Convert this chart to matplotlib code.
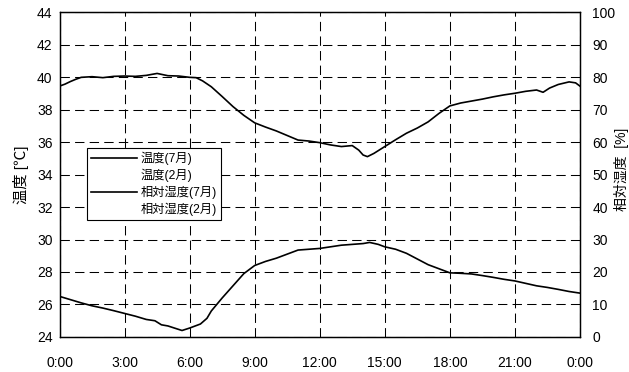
import numpy as np
import matplotlib
matplotlib.use("Agg")
import matplotlib.pyplot as plt
from matplotlib.lines import Line2D

plt.rcParams['font.family'] = ['Liberation Sans', 'Noto Sans CJK JP']

# temperature, July (left axis, deg C)
temp_hours = [0.0, 0.5, 1.0, 1.5, 2.0, 2.5, 3.0, 3.5, 4.0, 4.4, 4.7, 5.0, 5.3, 5.65,
              6.0, 6.5, 6.8, 7.0, 7.5, 8.0, 8.5, 9.0, 9.5, 10.0, 10.5, 11.0, 11.5,
              12.0, 12.5, 13.0, 13.5, 14.0, 14.3, 14.7, 15.0, 15.5, 16.0, 16.5,
              17.0, 17.5, 18.0, 18.5, 19.0, 19.5, 20.0, 20.5, 21.0, 21.5, 22.0,
              22.5, 23.0, 23.5, 24.0]
temp_jul = [26.5, 26.3, 26.1, 25.92, 25.78, 25.62, 25.45, 25.28, 25.08, 25.0, 24.75,
            24.68, 24.55, 24.4, 24.55, 24.8, 25.15, 25.6, 26.4, 27.15, 27.9, 28.4,
            28.65, 28.85, 29.1, 29.35, 29.4, 29.45, 29.55, 29.65, 29.7, 29.75, 29.82,
            29.7, 29.55, 29.4, 29.15, 28.8, 28.45, 28.2, 27.95, 27.92, 27.88, 27.78,
            27.67, 27.55, 27.45, 27.3, 27.15, 27.05, 26.93, 26.8, 26.7]

# relative humidity, July (right axis, %)
rh_hours = [0.0, 0.25, 0.5, 0.75, 1.0, 1.5, 2.0, 2.5, 3.0, 3.5, 4.0, 4.5, 5.0, 5.5,
            6.0, 6.3, 6.6, 7.0, 7.5, 8.0, 8.5, 9.0, 9.5, 10.0, 10.5, 11.0, 11.5,
            12.0, 12.5, 13.0, 13.5, 13.8, 14.0, 14.2, 14.5, 15.0, 15.5, 16.0, 16.5,
            17.0, 17.5, 18.0, 18.5, 19.0, 19.5, 20.0, 20.5, 21.0, 21.5, 22.0, 22.3,
            22.6, 23.0, 23.5, 23.8, 24.0]
rh_jul = [77.2, 77.8, 78.6, 79.3, 79.9, 80.1, 79.8, 80.2, 80.3, 80.2, 80.5, 81.1,
          80.4, 80.3, 79.9, 79.8, 78.8, 77.0, 74.0, 70.9, 68.2, 65.9, 64.6, 63.4,
          62.0, 60.6, 60.3, 59.8, 59.1, 58.6, 58.9, 57.5, 56.0, 55.5, 56.5, 58.6,
          60.7, 62.7, 64.3, 66.2, 68.8, 71.1, 72.0, 72.6, 73.2, 73.9, 74.5, 75.0,
          75.6, 76.0, 75.3, 76.6, 77.7, 78.5, 78.2, 77.2]

x_ticks = [0, 3, 6, 9, 12, 15, 18, 21, 24]
x_labels = ['0:00', '3:00', '6:00', '9:00', '12:00', '15:00', '18:00', '21:00', '0:00']
temp_ticks = [24, 26, 28, 30, 32, 34, 36, 38, 40, 42, 44]
rh_ticks = [0, 10, 20, 30, 40, 50, 60, 70, 80, 90, 100]
legend_labels = ['温度(7月)', '温度(2月)', '相対湿度(7月)', '相対湿度(2月)']

fig = plt.figure(figsize=(6.29, 3.72), dpi=100)
ax = fig.add_axes([0.0946, 0.0941, 0.8274, 0.8736])
ax2 = ax.twinx()

ax.plot(temp_hours, temp_jul, color='black', lw=1.2)
ax2.plot(rh_hours, rh_jul, color='black', lw=1.2)

ax.set_xlim(0, 24)
ax.set_ylim(24, 44)
ax2.set_ylim(0, 100)
ax.set_xticks(x_ticks)
ax.set_xticklabels(x_labels)
ax.set_yticks(temp_ticks)
ax2.set_yticks(rh_ticks)

ax.grid(True, color='black', lw=0.75, linestyle=(0, (9, 5)))
ax.set_axisbelow(True)

ax.tick_params(axis='x', length=0, pad=14, labelsize=10)
ax.tick_params(axis='y', length=0, pad=5, labelsize=10)
ax2.tick_params(axis='y', length=0, pad=9, labelsize=10)
for a in (ax, ax2):
    for s in a.spines.values():
        s.set_linewidth(0.9)
        s.set_color('black')

ax.set_ylabel('温度 [℃]', fontsize=11, labelpad=6)
ax2.set_ylabel('相対湿度  [%]', fontsize=10)
ax2.yaxis.set_label_coords(1.066, 0.515)

handles = [Line2D([], [], color='black', lw=1.2),
           Line2D([], [], color='white', lw=1.2),
           Line2D([], [], color='black', lw=1.2),
           Line2D([], [], color='white', lw=1.2)]
leg = ax.legend(handles, legend_labels, loc='upper left', bbox_to_anchor=(0.053, 0.582),
                borderaxespad=0, fancybox=False, framealpha=1, edgecolor='black',
                fontsize=8.8, handlelength=3.8, handletextpad=0.3, labelspacing=0.3,
                borderpad=0.3)
leg.get_frame().set_linewidth(0.8)

fig.savefig('out.png', dpi=100)
